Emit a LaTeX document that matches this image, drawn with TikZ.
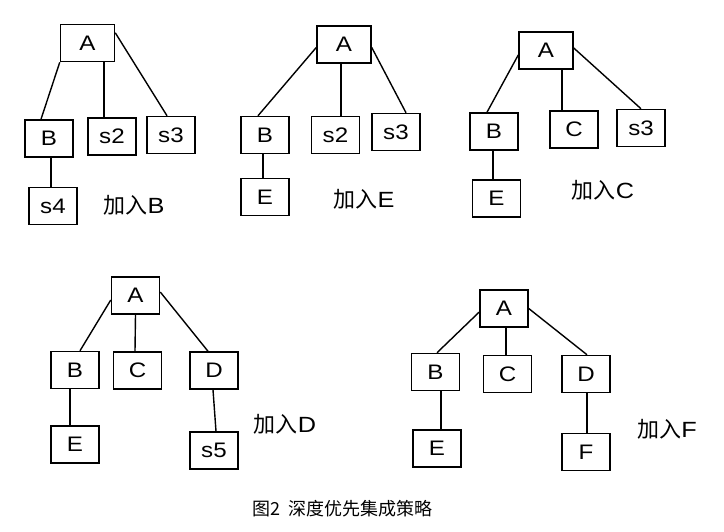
\documentclass[tikz,border=0pt]{standalone}
\usepackage{fontspec}
\setmainfont{Liberation Sans}
\newfontfamily\cjk{Noto Sans CJK SC}
\usepackage{graphicx}
\usepackage{tikz}
\newcommand{\wideText}[1]{\scalebox{1.15}[1]{#1}}
\tikzstyle{treeBox} = [shape=rectangle, draw=black, text=black, line width=1.5pt,
	fill=white, inner sep=0pt, minimum width=48pt, minimum height=37pt,
	font=\fontsize{21}{21}\selectfont]
\tikzstyle{rootBox} = [treeBox, minimum width=54pt]
\tikzstyle{treeLine} = [line width=1.4pt, draw=black]
\tikzstyle{stepLabel} = [text=black, inner sep=0pt, font=\fontsize{22}{22}\selectfont]

\begin{document}
\begin{tikzpicture}[x=1pt, y=-1pt]
	\useasboundingbox (0,0) rectangle (724,531);

	% tree 1: add B
	\node (A1) at (87.5,43) [rootBox] {\wideText{A}};
	\node (B1) at (49,138.5) [treeBox] {\wideText{B}};
	\node (S2a) at (112,136.5) [treeBox] {\wideText{s2}};
	\node (S3a) at (171,135) [treeBox] {\wideText{s3}};
	\node (S4a) at (53,206) [treeBox] {\wideText{s4}};
	\node (L1) at (134,205) [stepLabel] {{\cjk 加入}\wideText{B}};
	\draw [treeLine] (A1.south west) -- ([xshift=-8pt]B1.north);
	\draw [treeLine] ([xshift=16.5pt]A1.south) -- ([xshift=-8pt]S2a.north);
	\draw [treeLine] ([yshift=-9pt]A1.north east) -- ([xshift=-4pt]S3a.north);
	\draw [treeLine] ([xshift=2pt]B1.south) -- ([xshift=-2pt]S4a.north);

	% tree 2: add E
	\node (A2) at (344,44.5) [rootBox] {\wideText{A}};
	\node (B2) at (265,135) [treeBox] {\wideText{B}};
	\node (S2b) at (335.5,135) [treeBox] {\wideText{s2}};
	\node (S3b) at (396,132) [treeBox] {\wideText{s3}};
	\node (E2) at (265,197) [treeBox] {\wideText{E}};
	\node (L2) at (364,199) [stepLabel] {{\cjk 加入}\wideText{E}};
	\draw [treeLine] ([yshift=-3pt]A2.west) -- ([xshift=-7pt]B2.north);
	\draw [treeLine] ([xshift=-3pt]A2.south) -- ([xshift=5.5pt]S2b.north);
	\draw [treeLine] ([yshift=-3pt]A2.east) -- ([xshift=10pt]S3b.north);
	\draw [treeLine] ([xshift=-2pt]B2.south) -- ([xshift=-2pt]E2.north);

	% tree 3: add C
	\node (A3) at (546,50.5) [rootBox] {\wideText{A}};
	\node (B3) at (494,131.5) [treeBox] {\wideText{B}};
	\node (C3) at (574,129.5) [treeBox] {\wideText{C}};
	\node (S3c) at (641,128) [treeBox] {\wideText{s3}};
	\node (E3) at (496.5,198.5) [treeBox] {\wideText{E}};
	\node (L3) at (603,190) [stepLabel] {{\cjk 加入}\wideText{C}};
	\draw [treeLine] ([yshift=-4.5pt]A3.west) -- ([xshift=-7pt]B3.north);
	\draw [treeLine] ([xshift=16pt]A3.south) -- ([xshift=-12pt]C3.north);
	\draw [treeLine] ([yshift=2.5pt]A3.east) -- (S3c.north);
	\draw [treeLine] ([xshift=-1pt]B3.south) -- ([xshift=-3.5pt]E3.north);

	% tree 4: add D
	\node (A4) at (135.5,295.5) [treeBox] {\wideText{A}};
	\node (B4) at (75,370) [treeBox] {\wideText{B}};
	\node (C4) at (137.5,370.5) [treeBox] {\wideText{C}};
	\node (D4) at (214,370.5) [treeBox] {\wideText{D}};
	\node (E4) at (75,444.5) [treeBox] {\wideText{E}};
	\node (S5) at (214,450.5) [treeBox] {\wideText{s5}};
	\node (L4) at (285,424) [stepLabel] {{\cjk 加入}\wideText{D}};
	\draw [treeLine] ([yshift=-4.5pt]A4.west) -- ([xshift=5pt]B4.north);
	\draw [treeLine] (A4.south) -- ([xshift=-2.5pt]C4.north);
	\draw [treeLine] ([yshift=3.5pt]A4.east) -- ([xshift=-6pt]D4.north);
	\draw [treeLine] ([xshift=-5pt]B4.south) -- ([xshift=-5pt]E4.north);
	\draw [treeLine] ([xshift=-1pt]D4.south) -- ([xshift=2pt]S5.north);

	% tree 5: add F
	\node (A5) at (504,308.5) [treeBox] {\wideText{A}};
	\node (B5) at (435.5,372) [treeBox] {\wideText{B}};
	\node (C5) at (507.5,374) [treeBox] {\wideText{C}};
	\node (D5) at (586,374) [treeBox] {\wideText{D}};
	\node (E5) at (437,448.5) [treeBox] {\wideText{E}};
	\node (F5) at (586,452) [treeBox] {\wideText{F}};
	\node (L5) at (667,429) [stepLabel] {{\cjk 加入}\wideText{F}};
	\draw [treeLine] ([yshift=-3.5pt]A5.west) -- ([xshift=1.5pt]B5.north);
	\draw [treeLine] ([xshift=2pt]A5.south) -- ([xshift=-1.5pt]C5.north);
	\draw [treeLine] (A5.east) -- ([xshift=1pt]D5.north);
	\draw [treeLine] ([xshift=5.5pt]B5.south) -- ([xshift=4pt]E5.north);
	\draw [treeLine] ([xshift=1pt]D5.south) -- ([xshift=1pt]F5.north);

	\node (Caption) at (342.5,509) [text=black, inner sep=0pt, font=\cjk\fontsize{18}{18}\selectfont] {图2\hspace{8pt}深度优先集成策略};
\end{tikzpicture}
\end{document}
